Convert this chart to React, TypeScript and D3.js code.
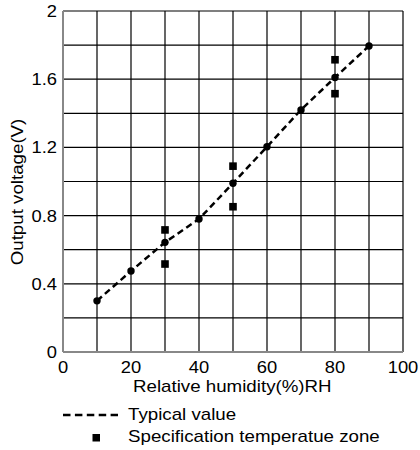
import React from "react";
import * as d3 from "d3";

const humidity = [10, 20, 30, 40, 50, 60, 70, 80, 90];
const typicalVoltage = [0.30, 0.475, 0.643, 0.78, 0.99, 1.204, 1.42, 1.61, 1.795];
const specHumidity = [30, 30, 50, 50, 80, 80];
const specVoltage = [0.716, 0.516, 1.09, 0.852, 1.714, 1.515];
const xGridTicks = [0, 10, 20, 30, 40, 50, 60, 70, 80, 90, 100];
const yGridTicks = [0, 0.2, 0.4, 0.6, 0.8, 1.0, 1.2, 1.4, 1.6, 1.8, 2.0];
const xLabelTicks = [0, 20, 40, 60, 80, 100];
const yLabelTicks = [0, 0.4, 0.8, 1.2, 1.6, 2];
const xTitle = "Relative humidity(%)RH";
const yTitle = "Output voltage(V)";
const legendLabels = ["Typical value", "Specification temperatue zone"];

const W = 420;
const H = 450;
const L = 63, R = 403, T = 11, B = 352;
const FONT = "'Liberation Sans', Arial, sans-serif";
const SX = 1.17;
const TSX = 1.08;

export default function App() {
  const x = d3.scaleLinear().domain([0, 100]).range([L, R]);
  const y = d3.scaleLinear().domain([0, 2]).range([B, T]);
  const line = d3
    .line<number>()
    .x((_, i) => x(humidity[i]))
    .y((d) => y(d));
  const pathD = line(typicalVoltage) || "";
  const fmt = (v: number) => (v === 0 || v === 2 ? String(v) : v.toFixed(1));

  return (
    <svg
      width={W}
      height={H}
      style={{ position: "absolute", left: 0, top: 0, background: "#fff" }}
    >
      <rect x={0} y={0} width={W} height={H} fill="#fff" />
      {xGridTicks.map((t) => (
        <line key={"gx" + t} x1={x(t)} x2={x(t)} y1={T} y2={B} stroke="#000" strokeWidth={1.2} />
      ))}
      {yGridTicks.map((t) => (
        <line key={"gy" + t} x1={L} x2={R} y1={y(t)} y2={y(t)} stroke="#000" strokeWidth={1.2} />
      ))}
      <line x1={L} x2={L} y1={T} y2={B} stroke="#888" strokeWidth={2} />
      <line x1={L} x2={R} y1={B} y2={B} stroke="#888" strokeWidth={2} />
      <path d={pathD} fill="none" stroke="#000" strokeWidth={2.5} strokeDasharray="6.5,4" />
      {typicalVoltage.map((v, i) => (
        <circle key={"c" + i} cx={x(humidity[i])} cy={y(v)} r={3.7} fill="#000" />
      ))}
      {specVoltage.map((v, i) => (
        <rect key={"s" + i} x={x(specHumidity[i]) - 3.8} y={y(v) - 3.8} width={7.6} height={7.6} fill="#000" />
      ))}
      {xLabelTicks.map((t) => (
        <text
          key={"xl" + t}
          transform={`translate(${x(t)},373) scale(${TSX},1)`}
          textAnchor="middle"
          fontFamily={FONT}
          fontSize={17}
          fill="#000"
        >
          {t}
        </text>
      ))}
      {yLabelTicks.map((t) => (
        <text
          key={"yl" + t}
          transform={`translate(57,${y(t)}) scale(${TSX},1)`}
          dy="0.35em"
          textAnchor="end"
          fontFamily={FONT}
          fontSize={17}
          fill="#000"
        >
          {fmt(t)}
        </text>
      ))}
      <text
        transform={`translate(133,392) scale(${SX},1)`}
        fontFamily={FONT}
        fontSize={16}
        fill="#000"
      >
        {xTitle}
      </text>
      <text
        transform={`translate(23,192) rotate(-90) scale(${SX},1)`}
        textAnchor="middle"
        fontFamily={FONT}
        fontSize={16}
        fill="#000"
      >
        {yTitle}
      </text>
      <line x1={63} x2={118} y1={415} y2={415} stroke="#000" strokeWidth={2.5} strokeDasharray="7.5,4.4" />
      <text transform={`translate(128,420) scale(${SX},1)`} fontFamily={FONT} fontSize={16} fill="#000">
        {legendLabels[0]}
      </text>
      <rect x={92.5} y={434} width={7.5} height={7.5} fill="#000" />
      <text transform={`translate(128,441.5) scale(${SX},1)`} fontFamily={FONT} fontSize={16} fill="#000">
        {legendLabels[1]}
      </text>
    </svg>
  );
}
